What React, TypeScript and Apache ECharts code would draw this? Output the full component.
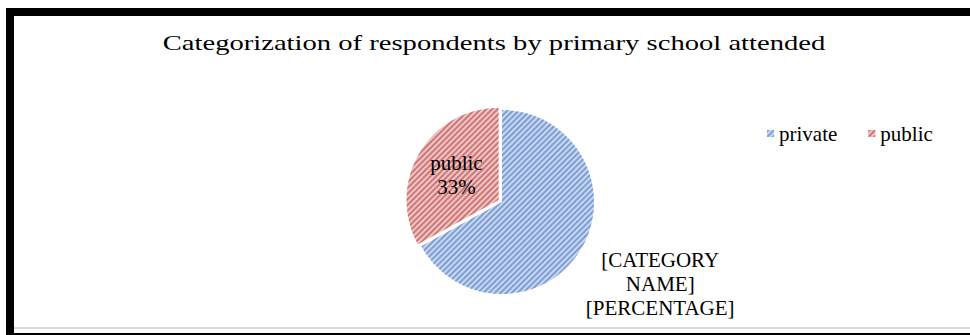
import React, { useEffect, useRef } from "react";
import * as echarts from "echarts";

const TITLE = "Categorization of respondents by primary school attended";
const categories = ["private", "public"];
const values = [67, 33];
const baseColors = ["#c9d8ef", "#efc6c6"];
const stripeColors = ["#7e9fd5", "#cf7676"];
const SERIF = "Liberation Serif";

export default function App() {
  const ref = useRef<HTMLDivElement>(null);
  useEffect(() => {
    document.body.style.margin = "0";
    if (!ref.current) return;
    const chart = echarts.init(ref.current, null, { renderer: "svg" });
    const ctx = document.createElement("canvas").getContext("2d");
    let scaleX = 1.25;
    if (ctx) {
      ctx.font = '22px "Liberation Serif"';
      const w = ctx.measureText(TITLE).width;
      if (w > 0) scaleX = 663 / w;
    }
    const data = categories.map((name, i) => ({
      name,
      value: values[i],
      selected: i === 1,
      itemStyle: {
        color: baseColors[i],
        decal: {
          symbol: "rect",
          symbolSize: 1,
          dashArrayX: [1, 0],
          dashArrayY: [2, 2],
          rotation: -Math.PI / 4,
          color: stripeColors[i],
        },
      },
      label:
        i === 0
          ? {
              position: "outside",
              formatter: "[CATEGORY\nNAME]\n[PERCENTAGE]",
            }
          : {
              position: "inside",
              formatter: "{b}\n{d}%",
            },
      labelLine: i === 0 ? { show: false, length: 86, length2: 0 } : { show: false },
    }));
    chart.setOption({
      animation: false,
      backgroundColor: "#ffffff",
      legend: {
        data: categories,
        left: 762,
        top: 118,
        icon: "rect",
        itemWidth: 7,
        itemHeight: 7,
        itemGap: 31,
        textStyle: { fontFamily: SERIF, fontSize: 21, color: "#000" },
      },
      graphic: [
        { type: "rect", shape: { x: 6, y: 8, width: 964, height: 8 }, style: { fill: "#000" } },
        { type: "rect", shape: { x: 6, y: 8, width: 8, height: 327 }, style: { fill: "#000" } },
        { type: "rect", shape: { x: 14, y: 327, width: 956, height: 2 }, style: { fill: "#d9d9d9" } },
        { type: "rect", shape: { x: 14, y: 333, width: 956, height: 2 }, style: { fill: "#000" } },
        {
          type: "text",
          x: 494,
          y: 43,
          scaleX,
          style: {
            text: TITLE,
            fontFamily: SERIF,
            fontSize: 22,
            fill: "#000",
            align: "center",
            verticalAlign: "middle",
          },
        },
      ],
      series: [
        {
          type: "pie",
          center: [502, 202],
          radius: [0, 92],
          startAngle: 90,
          clockwise: true,
          selectedMode: "single",
          selectedOffset: 4,
          avoidLabelOverlap: false,
          label: {
            fontFamily: SERIF,
            fontSize: 21,
            lineHeight: 24,
            color: "#000",
          },
          labelLayout: (p: any) =>
            p.dataIndex === 0
              ? { align: "center", verticalAlign: "middle", dy: -9 }
              : {},
          emphasis: { disabled: true },
          data,
        },
      ],
    });
    return () => chart.dispose();
  }, []);
  return <div ref={ref} style={{ width: 970, height: 335 }} />;
}
